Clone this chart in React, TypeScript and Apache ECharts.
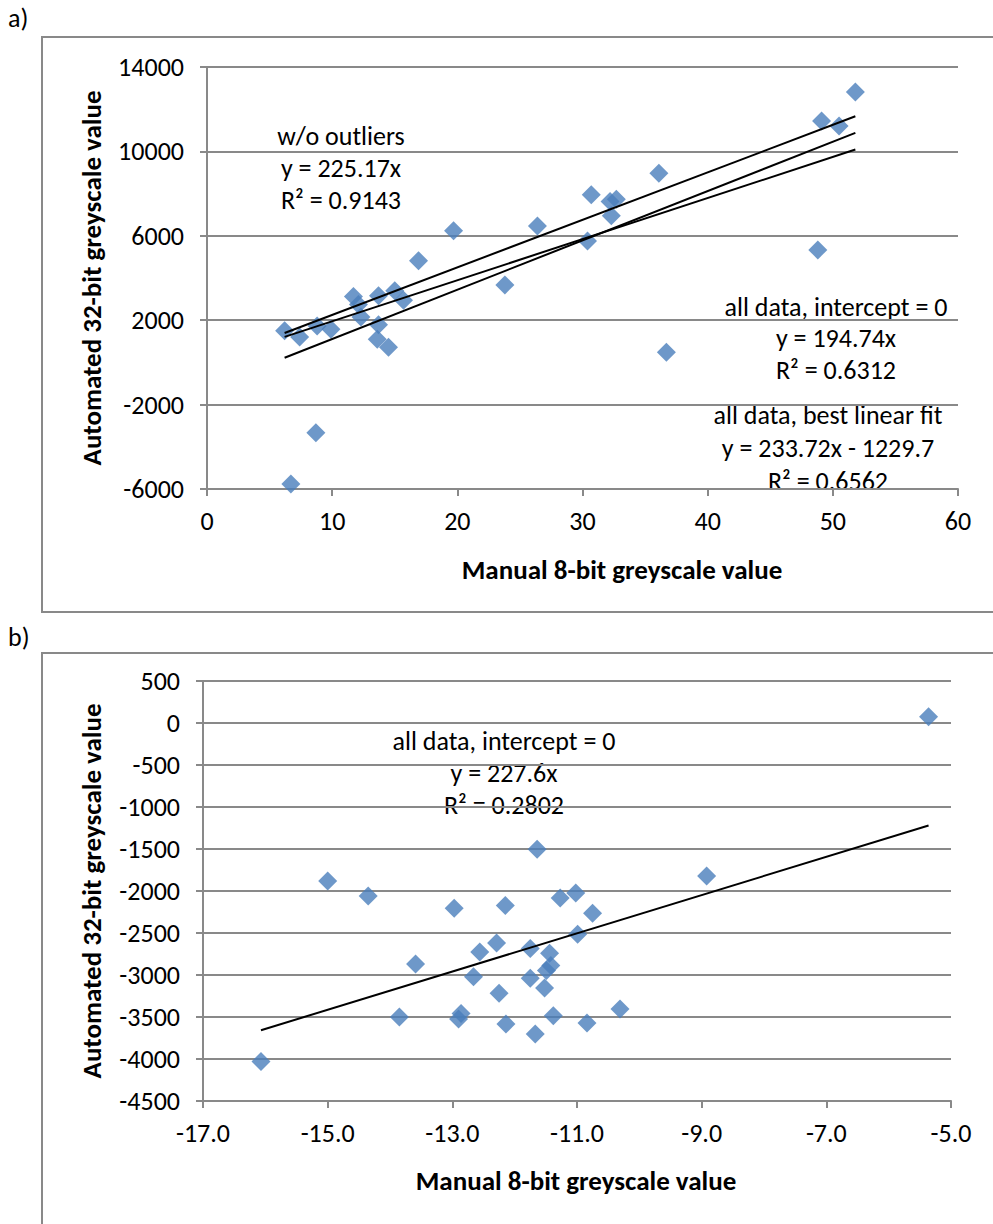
import React, { useEffect, useRef } from "react";
import * as echarts from "echarts";

// ---- Chart a) data ----
const aManual = [6.2, 7.4, 8.8, 9.9, 11.7, 12.1, 12.3, 13.7, 13.7, 13.6, 14.5, 15.0, 15.7, 16.9, 19.7, 23.8, 26.4, 30.4, 30.7, 32.2, 32.7, 32.3, 36.1, 49.1, 50.5, 51.8, 48.8, 36.7, 8.7, 6.7];
const aAuto = [1500, 1200, 1725, 1570, 3120, 2750, 2150, 3160, 1790, 1100, 715, 3400, 2950, 4820, 6240, 3670, 6460, 5750, 7950, 7620, 7730, 6950, 8960, 11440, 11200, 12815, 5330, 480, -3330, -5760];
// trendlines: [slope, intercept]
const aFitNoOutliers = [225.17, 0];
const aFitZero = [194.74, 0];
const aFitBest = [233.72, -1229.7];
const aXTicks = { min: 0, max: 60, interval: 10 };
const aYTicks = { min: -6000, max: 14000, interval: 4000 };

// ---- Chart b) data ----
const bManual = [-16.07, -15.0, -14.35, -13.59, -13.85, -12.97, -12.90, -12.86, -12.56, -12.66, -12.29, -12.25, -12.15, -12.14, -11.64, -11.75, -11.75, -11.67, -11.44, -11.49, -11.42, -11.52, -11.38, -11.27, -11.02, -10.99, -10.75, -10.84, -10.31, -8.92, -5.36];
const bAuto = [-4030, -1880, -2060, -2868, -3500, -2205, -3524, -3457, -2725, -3020, -2620, -3218, -2172, -3584, -1504, -2685, -3040, -3703, -2741, -2947, -2888, -3156, -3484, -2083, -2025, -2514, -2264, -3572, -3405, -1822, 75];
const bFitZero = [227.6, 0];
const bXTicks = { min: -17, max: -5, interval: 2 };
const bYTicks = { min: -4500, max: 500, interval: 500 };

const FONT = "Calibri, Carlito, Lato, sans-serif";
const GRID = "#898989";
const BLUE = "#4a7ebb";
const FS = 26;

function fitLine(xs: number[], coef: number[]) {
  const x0 = Math.min(...xs);
  const x1 = Math.max(...xs);
  return [
    [x0, coef[0] * x0 + coef[1]],
    [x1, coef[0] * x1 + coef[1]],
  ];
}

function zip(xs: number[], ys: number[]) {
  return xs.map((x, i) => [x, ys[i]]);
}

export default function App() {
  const ref = useRef<HTMLDivElement>(null);
  useEffect(() => {
    document.body.style.margin = "0";
    const chart = echarts.init(ref.current!, null, { renderer: "svg" });
    const lineStyle = { color: GRID, width: 2 };
    const label = { color: "#000", fontSize: FS, fontFamily: FONT };
    const txt = (text: string, x: number, y: number, extra: any = {}) => {
      const { rotation, ...st } = extra;
      return {
        type: "text",
        x,
        y,
        rotation: rotation || 0,
        style: {
          text,
          fill: "#000",
          fontSize: FS,
          fontFamily: FONT,
          align: "center",
          verticalAlign: "middle",
          ...st,
        },
      };
    };
    const trend = (data: number[][], xi: number) => ({
      type: "line",
      xAxisIndex: xi,
      yAxisIndex: xi,
      data,
      showSymbol: false,
      symbol: "none",
      lineStyle: { color: "#000", width: 2 },
      z: 5,
      silent: true,
    });
    const plain = (v: number) => String(v);
    chart.setOption({
      animation: false,
      textStyle: { fontFamily: FONT },
      grid: [
        { left: 207, top: 67, width: 751, height: 422 },
        { left: 203, top: 681, width: 748, height: 420 },
      ],
      xAxis: [
        {
          gridIndex: 0,
          type: "value",
          ...aXTicks,
          axisLine: { show: true, onZero: false, lineStyle },
          axisTick: { show: true, length: 7, lineStyle },
          splitLine: { show: false },
          axisLabel: { ...label, margin: 19, formatter: plain },
        },
        {
          gridIndex: 1,
          type: "value",
          ...bXTicks,
          axisLine: { show: true, onZero: false, lineStyle },
          axisTick: { show: true, length: 7, lineStyle },
          splitLine: { show: false },
          axisLabel: { ...label, margin: 19, formatter: (v: number) => v.toFixed(1) },
        },
      ],
      yAxis: [
        {
          gridIndex: 0,
          type: "value",
          ...aYTicks,
          axisLine: { show: true, onZero: false, lineStyle },
          axisTick: { show: true, length: 7, lineStyle },
          splitLine: { show: true, lineStyle },
          axisLabel: { ...label, margin: 23, formatter: plain },
        },
        {
          gridIndex: 1,
          type: "value",
          ...bYTicks,
          axisLine: { show: true, onZero: false, lineStyle },
          axisTick: { show: true, length: 7, lineStyle },
          splitLine: { show: true, lineStyle },
          axisLabel: { ...label, margin: 23, formatter: plain },
        },
      ],
      series: [
        {
          type: "scatter",
          xAxisIndex: 0,
          yAxisIndex: 0,
          data: zip(aManual, aAuto),
          symbol: "diamond",
          symbolSize: 19,
          itemStyle: { color: BLUE },
          z: 3,
        },
        trend(fitLine(aManual, aFitNoOutliers), 0),
        trend(fitLine(aManual, aFitZero), 0),
        trend(fitLine(aManual, aFitBest), 0),
        {
          type: "scatter",
          xAxisIndex: 1,
          yAxisIndex: 1,
          data: zip(bManual, bAuto),
          symbol: "diamond",
          symbolSize: 19,
          itemStyle: { color: BLUE },
          z: 3,
        },
        trend(fitLine(bManual, bFitZero), 1),
      ],
      graphic: [
        { type: "rect", shape: { x: 42, y: 37, width: 1000, height: 575 }, style: { fill: "none", stroke: GRID, lineWidth: 2 }, z: -1 },
        { type: "rect", shape: { x: 42, y: 653, width: 1000, height: 700 }, style: { fill: "none", stroke: GRID, lineWidth: 2 }, z: -1 },
        txt("a)", 8, 18, { align: "left" }),
        txt("b)", 8, 637, { align: "left" }),
        txt("w/o outliers", 341, 136),
        txt("y = 225.17x", 341, 168),
        txt("R\u00b2 = 0.9143", 341, 200),
        txt("all data, intercept = 0", 836, 307),
        txt("y = 194.74x", 836, 338),
        txt("R\u00b2 = 0.6312", 836, 370),
        txt("all data, best linear fit", 828, 415),
        txt("y = 233.72x - 1229.7", 828, 448),
        txt("R\u00b2 = 0.6562", 828, 481),
        txt("Manual 8-bit greyscale value", 622, 569, { fontWeight: "bold", fontSize: 27 }),
        txt("Automated 32-bit greyscale value", 91, 278, { fontWeight: "bold", fontSize: 27, rotation: Math.PI / 2 }),
        txt("all data, intercept = 0", 504, 741),
        txt("y = 227.6x", 504, 773),
        txt("R\u00b2 = 0.2802", 504, 805),
        txt("Manual 8-bit greyscale value", 576, 1180, { fontWeight: "bold", fontSize: 27 }),
        txt("Automated 32-bit greyscale value", 91, 891, { fontWeight: "bold", fontSize: 27, rotation: Math.PI / 2 }),
      ],
    });
    return () => chart.dispose();
  }, []);
  return <div ref={ref} style={{ width: 993, height: 1224 }} />;
}
